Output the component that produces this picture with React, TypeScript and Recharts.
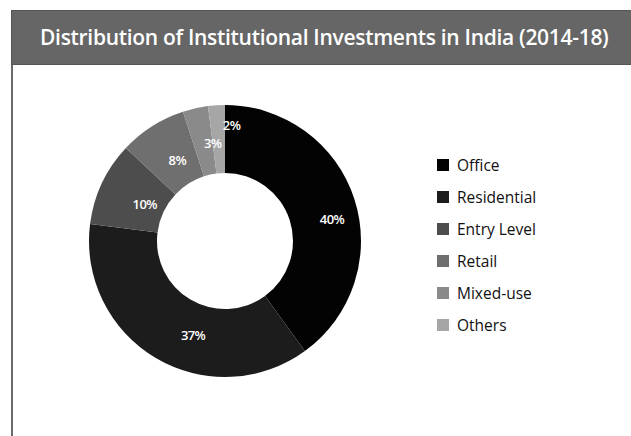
import { Cell, Pie, PieChart } from "recharts";

const categories = ["Office", "Residential", "Entry Level", "Retail", "Mixed-use", "Others"];
const shares = [40, 37, 10, 8, 3, 2];
const colors = ["#030303", "#1c1c1c", "#4d4d4d", "#6f6f6f", "#8a8a8a", "#a6a6a6"];

const data = categories.map((name, i) => ({ name, value: shares[i] }));

const RADIAN = Math.PI / 180;
// hand-placed label offsets, like the source
const labelNudge = [
  [10, 10],
  [20, 6],
  [12, 6],
  [7, 5],
  [10, 2],
  [13, -14],
];

function renderLabel(props: any) {
  const { cx, cy, midAngle, innerRadius, outerRadius, value, index } = props;
  const r = (innerRadius + outerRadius) / 2;
  const [nx, ny] = labelNudge[index] ?? [0, 0];
  const x = cx + r * Math.cos(-midAngle * RADIAN) + nx;
  const y = cy + r * Math.sin(-midAngle * RADIAN) + ny;
  return (
    <text
      x={x}
      y={y}
      fill="#fff"
      textAnchor="middle"
      dominantBaseline="central"
      fontSize={13}
      fontWeight={600}
      fontFamily="'Open Sans', sans-serif"
      letterSpacing={-0.6}
    >
      {value}%
    </text>
  );
}

export default function App() {
  return (
    <div style={{ position: "absolute", left: 0, top: 0, width: 631, height: 436, background: "#fff", overflow: "hidden" }}>
      <div
        style={{
          position: "absolute",
          left: 11,
          top: 10,
          width: 630,
          height: 55,
          background: "#666",
          borderTop: "1px solid #555",
          borderLeft: "1px solid #555",
          borderBottom: "1px solid #555",
          boxSizing: "border-box",
          color: "#fff",
          fontFamily: "'Open Sans', sans-serif",
          fontWeight: 600,
          fontSize: 21,
          lineHeight: "52px",
          paddingLeft: 28,
          whiteSpace: "nowrap",
          letterSpacing: -0.3,
        }}
      >
        Distribution of Institutional Investments in India (2014-18)
      </div>
      <div style={{ position: "absolute", left: 11, top: 65, width: 2, height: 371, background: "#6a6a6a" }} />
      <div style={{ position: "absolute", left: 0, top: 0 }}>
        <PieChart width={631} height={436} margin={{ top: 0, right: 0, bottom: 0, left: 0 }}>
          <Pie
            data={data}
            dataKey="value"
            nameKey="name"
            cx={225}
            cy={241}
            innerRadius={68}
            outerRadius={136}
            startAngle={90}
            endAngle={-270}
            stroke="none"
            label={renderLabel}
            labelLine={false}
            isAnimationActive={false}
          >
            {data.map((d, i) => (
              <Cell key={d.name} fill={colors[i]} />
            ))}
          </Pie>
        </PieChart>
      </div>
      <div
        style={{
          position: "absolute",
          left: 437,
          top: 149,
          fontFamily: "'Open Sans', sans-serif",
          fontSize: 15.5,
          color: "#111",
        }}
      >
        {categories.map((c, i) => (
          <div key={c} style={{ display: "flex", alignItems: "center", height: 32 }}>
            <span style={{ width: 12, height: 12, background: colors[i], marginRight: 8, display: "inline-block" }} />
            <span>{c}</span>
          </div>
        ))}
      </div>
    </div>
  );
}
